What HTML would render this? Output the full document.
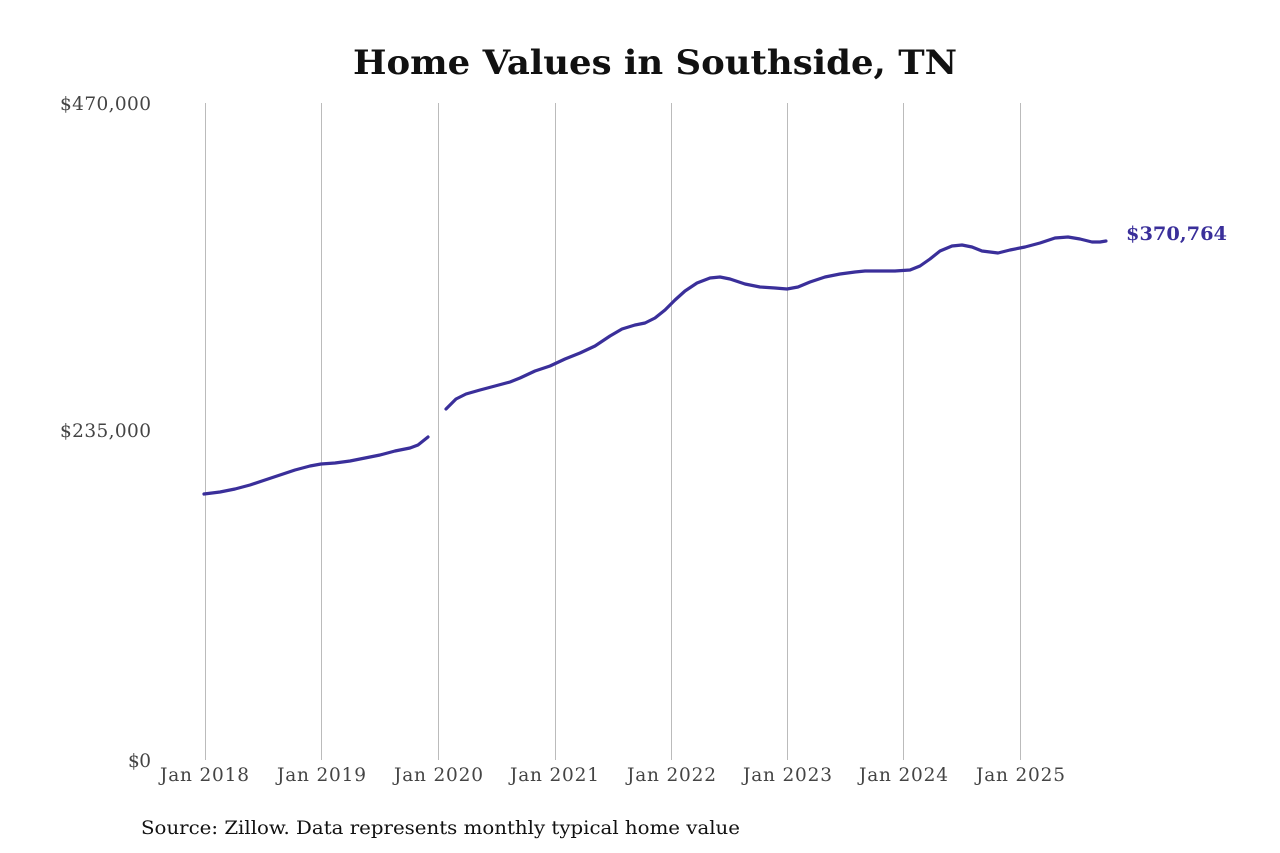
<!DOCTYPE html>
<html><head><meta charset="utf-8"><style>
body{margin:0;background:#fff;}
svg{display:block;}
text{font-family:"DejaVu Serif","Liberation Serif",serif;}
</style></head><body>
<svg width="1280" height="853" viewBox="0 0 1280 853" xmlns="http://www.w3.org/2000/svg">
<rect width="1280" height="853" fill="#fff"/>
<text x="353" y="74" font-size="34" font-weight="bold" fill="#111" textLength="604" lengthAdjust="spacingAndGlyphs">Home Values in Southside, TN</text>
<g stroke="#bbb" stroke-width="1">
<line x1="205.5" y1="103" x2="205.5" y2="760"/>
<line x1="321.5" y1="103" x2="321.5" y2="760"/>
<line x1="438.5" y1="103" x2="438.5" y2="760"/>
<line x1="555.5" y1="103" x2="555.5" y2="760"/>
<line x1="671.5" y1="103" x2="671.5" y2="760"/>
<line x1="787.5" y1="103" x2="787.5" y2="760"/>
<line x1="903.5" y1="103" x2="903.5" y2="760"/>
<line x1="1020.5" y1="103" x2="1020.5" y2="760"/>
</g>
<g font-size="18.5" fill="#444" lengthAdjust="spacingAndGlyphs">
<text x="60" y="110" textLength="91">$470,000</text>
<text x="60" y="437" textLength="91">$235,000</text>
<text x="128" y="767" textLength="23">$0</text>
</g>
<g font-size="18.5" fill="#444" lengthAdjust="spacingAndGlyphs">
<text x="160" y="781" textLength="89">Jan 2018</text>
<text x="277" y="781" textLength="89">Jan 2019</text>
<text x="394" y="781" textLength="89">Jan 2020</text>
<text x="510" y="781" textLength="89">Jan 2021</text>
<text x="627" y="781" textLength="89">Jan 2022</text>
<text x="743" y="781" textLength="89">Jan 2023</text>
<text x="859" y="781" textLength="89">Jan 2024</text>
<text x="976" y="781" textLength="89">Jan 2025</text>
</g>
<g fill="none" stroke="#3a2f9a" stroke-width="3.2" stroke-linejoin="round" stroke-linecap="round">
<polyline points="204,494 220,492 235,489 250,485 265,480 280,475 295,470 310,466 321,464 335,463 350,461 365,458 380,455 395,451 410,448 418,445 428,437"/>
<polyline points="446,409 456,399 466,394 480,390 495,386 510,382 520,378 535,371 550,366 565,359 580,353 595,346 610,336 622,329 635,325 645,323 655,318 665,310 675,300 685,291 697,283 710,278 720,277 730,279 745,284 760,287 775,288 787,289 798,287 810,282 825,277 840,274 855,272 865,271 880,271 895,271 910,270 920,266 930,259 940,251 952,246 962,245 972,247 982,251 998,253 1010,250 1025,247 1040,243 1055,238 1068,237 1080,239 1092,242 1100,242 1106,241"/>
</g>
<text x="1126" y="240" font-size="19" font-weight="bold" fill="#3a2f9a" textLength="101" lengthAdjust="spacingAndGlyphs">$370,764</text>
<text x="141" y="834" font-size="19" fill="#111" textLength="599" lengthAdjust="spacingAndGlyphs">Source: Zillow. Data represents monthly typical home value</text>
</svg>
</body></html>
